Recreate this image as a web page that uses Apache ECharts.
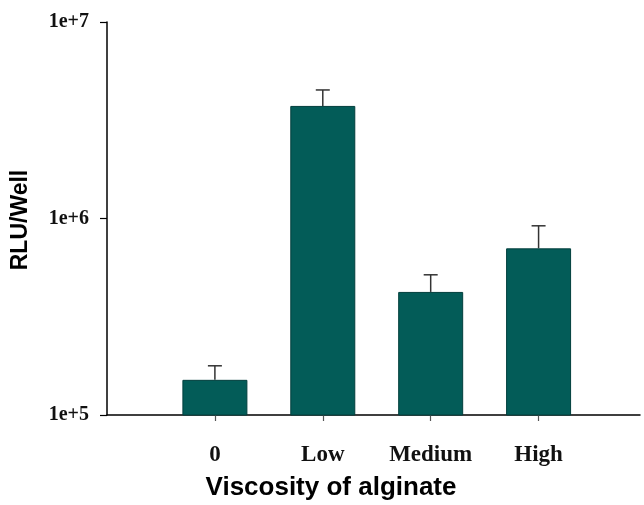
<!DOCTYPE html>
<html>
<head>
<meta charset="utf-8">
<script src="https://cdn.jsdelivr.net/npm/echarts@6/dist/echarts.min.js"></script>
<style>
    html, body { margin: 0; padding: 0; background: #fff; }
    #chart { width: 644px; height: 505px; }
</style>
</head>
<body>
<div id="chart"></div>
<script>
// categories, placed at x = 1..4 on the axis
var categories = ['0', 'Low', 'Medium', 'High'];
// mean RLU per well
var means = [1.51e5, 3.74e6, 4.23e5, 7.05e5];
// top of the error bar (mean + SD)
var errTops = [1.78e5, 4.51e6, 5.17e5, 9.18e5];
var yTicks = [1e5, 1e6, 1e7];
var catPos = [1, 2, 3, 4];

var barData = categories.map(function (c, i) {
    return [catPos[i], means[i]];
});
var errData = categories.map(function (c, i) {
    return [catPos[i], means[i], errTops[i]];
});

function renderErr(params, api) {
    var bottom = api.coord([api.value(0), api.value(1)]);
    var top = api.coord([api.value(0), api.value(2)]);
    var half = 7;
    var style = {stroke: '#333', lineWidth: 1.5};
    return {
        type: 'group',
        children: [
            {type: 'line', shape: {x1: top[0], y1: top[1], x2: bottom[0], y2: bottom[1]}, style: style},
            {type: 'line', shape: {x1: top[0] - half, y1: top[1], x2: top[0] + half, y2: top[1]}, style: style}
        ]
    };
}

var myChart = echarts.init(document.getElementById('chart'));
var option = {
    animation: false,
    grid: {left: 107, right: 4, top: 22, bottom: 90},
    xAxis: {
        type: 'value',
        min: 0,
        max: 4.94,
        interval: 1,
        axisLine: {show: true, lineStyle: {color: '#000', width: 1.5}},
        axisTick: {
            show: true,
            length: 6,
            customValues: catPos,
            lineStyle: {color: '#555', width: 1.2}
        },
        axisLabel: {
            margin: 29,
            color: '#111',
            fontFamily: 'Liberation Serif',
            fontWeight: 'bold',
            fontSize: 23,
            customValues: catPos,
            formatter: function (v) {
                return categories[Math.round(v) - 1] || '';
            }
        },
        splitLine: {show: false}
    },
    yAxis: {
        type: 'log',
        logBase: 10,
        min: yTicks[0],
        max: yTicks[yTicks.length - 1],
        axisLine: {show: true, lineStyle: {color: '#000', width: 1.5}},
        axisTick: {show: true, length: 7, lineStyle: {color: '#000', width: 1.2}},
        minorTick: {show: false},
        splitLine: {show: false},
        axisLabel: {
            margin: 18,
            color: '#111',
            fontFamily: 'Liberation Serif',
            fontWeight: 'bold',
            fontSize: 20,
            padding: [4, 0, 0, 0],
            formatter: function (v) {
                return '1e+' + Math.round(Math.log(v) / Math.LN10);
            }
        }
    },
    graphic: [
        {
            type: 'text',
            x: 21, y: 220,
            rotation: Math.PI / 2,
            style: {
                text: 'RLU/Well',
                fill: '#000',
                font: 'bold 23px "Liberation Sans"',
                align: 'center',
                verticalAlign: 'middle'
            }
        },
        {
            type: 'text',
            x: 331, y: 488,
            style: {
                text: 'Viscosity of alginate',
                fill: '#000',
                font: 'bold 26px "Liberation Sans"',
                align: 'center',
                verticalAlign: 'middle'
            }
        }
    ],
    series: [
        {
            type: 'bar',
            data: barData,
            barWidth: 65,
            itemStyle: {color: '#035c58', borderColor: '#023f3d', borderWidth: 1}
        },
        {
            type: 'custom',
            renderItem: renderErr,
            data: errData,
            z: 1
        }
    ]
};
myChart.setOption(option);
</script>
</body>
</html>
